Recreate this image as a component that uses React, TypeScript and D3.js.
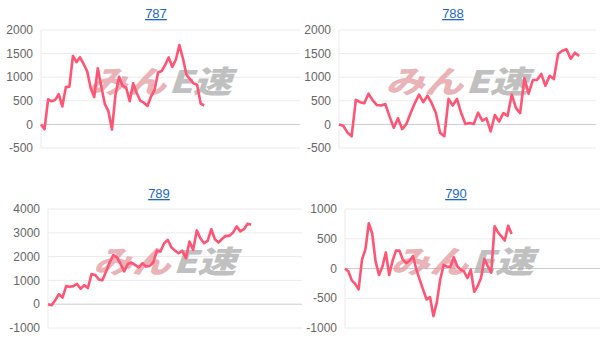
import React from "react";
import * as d3 from "d3";

// values, one array per machine
const titles = ["787", "788", "789", "790"];

const data787 = [
  0, -100, 530, 490, 520, 640, 380, 790, 800, 1450, 1320, 1420, 1280, 1130, 770, 580,
  1190, 800, 430, 280, -110, 630, 1010, 820, 780, 490, 870, 660, 500, 460, 390, 590,
  730, 1100, 1130, 1260, 1420, 1220, 1370, 1680, 1400, 1050, 960, 870, 840, 440, 400,
];

const data788 = [
  0, -30, -170, -250, 520, 470, 450, 650, 510, 410, 400, 430, 170, -70, 130, -100, 10,
  240, 450, 630, 470, 610, 450, 240, -180, -250, 540, 400, 540, 240, 10, 30, 10, 250, 80,
  130, -150, 200, 60, 240, 180, 630, 350, 240, 980, 650, 940, 940, 1070, 820, 1030, 960,
  1490, 1560, 1590, 1390, 1520, 1450,
];

const data789 = [
  0, -40, 170, 420, 280, 760, 730, 760, 850, 650, 800, 680, 1270, 1230, 1040, 1010, 1370,
  1750, 2060, 1970, 1690, 1380, 1690, 1750, 1650, 1550, 1720, 1580, 1610, 1750, 2250, 2210,
  2560, 2700, 2390, 2250, 2140, 2250, 1930, 2630, 2280, 3100, 2770, 2560, 2660, 3150, 2730,
  2590, 2750, 2870, 2870, 3010, 3270, 3060, 3150, 3380, 3340,
];

const data790 = [
  0, -50, -200, -260, -350, 150, 320, 760, 590, 120, -110, 30, 270, -110, 130, 300, 300,
  150, 90, 130, 210, -20, -190, -360, -520, -480, -800, -570, -190, 60, 30, 30, 190, 40,
  -20, -50, -160, -20, -390, -300, -160, 160, 40, -70, 710, 610, 540, 470, 720, 580,
];

const yTicks787 = [-500, 0, 500, 1000, 1500, 2000];
const yTicks788 = [-500, 0, 500, 1000, 1500, 2000];
const yTicks789 = [-1000, 0, 1000, 2000, 3000, 4000];
const yTicks790 = [-1000, -500, 0, 500, 1000];

// number of x slots each chart is laid out for
const slots = [73, 61, 70, 75];

const panels = [
  { title: titles[0], values: data787, ticks: yTicks787, slots: slots[0], left: 41, right: 300, top: 30, bottom: 148, titleX: 156, titleY: 18 },
  { title: titles[1], values: data788, ticks: yTicks788, slots: slots[1], left: 339, right: 596, top: 30, bottom: 148, titleX: 453, titleY: 18 },
  { title: titles[2], values: data789, ticks: yTicks789, slots: slots[2], left: 48, right: 302, top: 209, bottom: 328, titleX: 159, titleY: 198 },
  { title: titles[3], values: data790, ticks: yTicks790, slots: slots[3], left: 345, right: 600, top: 209, bottom: 328, titleX: 456, titleY: 198 },
];

const LINE = "#ff5473";

function Panel({ p }: { p: (typeof panels)[number] }) {
  const x = d3.scaleLinear().domain([0, p.slots]).range([p.left, p.right]);
  const y = d3
    .scaleLinear()
    .domain([d3.min(p.ticks) as number, d3.max(p.ticks) as number])
    .range([p.bottom, p.top]);

  const line = d3
    .line<number>()
    .x((_, i) => x(i))
    .y((d) => y(d));

  const midX = (p.left + p.right) / 2 + 1;
  const midY = (p.top + p.bottom) / 2 - 9;

  return (
    <g>
      <text
        x={p.titleX}
        y={p.titleY}
        textAnchor="middle"
        fontSize={13}
        fill="#1a66cc"
        textDecoration="underline"
        fontFamily="Liberation Sans, Arial, sans-serif"
      >
        {p.title}
      </text>
      {p.ticks.map((t) => (
        <g key={t}>
          <line
            x1={p.left}
            x2={p.right}
            y1={y(t)}
            y2={y(t)}
            stroke={t === 0 ? "#cccccc" : "#ebebeb"}
            strokeWidth={1}
          />
          <text
            x={p.left - 8}
            y={y(t)}
            dy="0.35em"
            textAnchor="end"
            fontSize={12}
            fill="#666"
            fontFamily="Liberation Sans, Arial, sans-serif"
          >
            {t}
          </text>
        </g>
      ))}
      <line x1={p.left} x2={p.left} y1={p.top} y2={p.bottom} stroke="#ebebeb" />
      {/* watermark */}
      <g transform={`translate(${midX},${midY}) scale(1.25,1) skewX(-15)`} opacity={0.75}>
        <text
          x={-1}
          y={13}
          textAnchor="end"
          fontSize={31}
          fontWeight="900"
          fill="#e49aa1"
          fontFamily="Noto Sans CJK JP, sans-serif"
        >
          みん
        </text>
        <text
          x={1}
          y={13}
          textAnchor="start"
          fontSize={31}
          fontWeight="900"
          fill="#acacac"
          fontFamily="Noto Sans CJK JP, sans-serif"
        >
          E速
        </text>
      </g>
      <path
        d={line(p.values) || ""}
        fill="none"
        stroke={LINE}
        strokeWidth={2.6}
        strokeLinejoin="round"
      />
    </g>
  );
}

export default function App() {
  return (
    <div style={{ position: "absolute", left: 0, top: 0 }}>
      <svg width={606} height={354} style={{ display: "block", background: "#fff" }}>
        {panels.map((p) => (
          <Panel key={p.title} p={p} />
        ))}
      </svg>
    </div>
  );
}
